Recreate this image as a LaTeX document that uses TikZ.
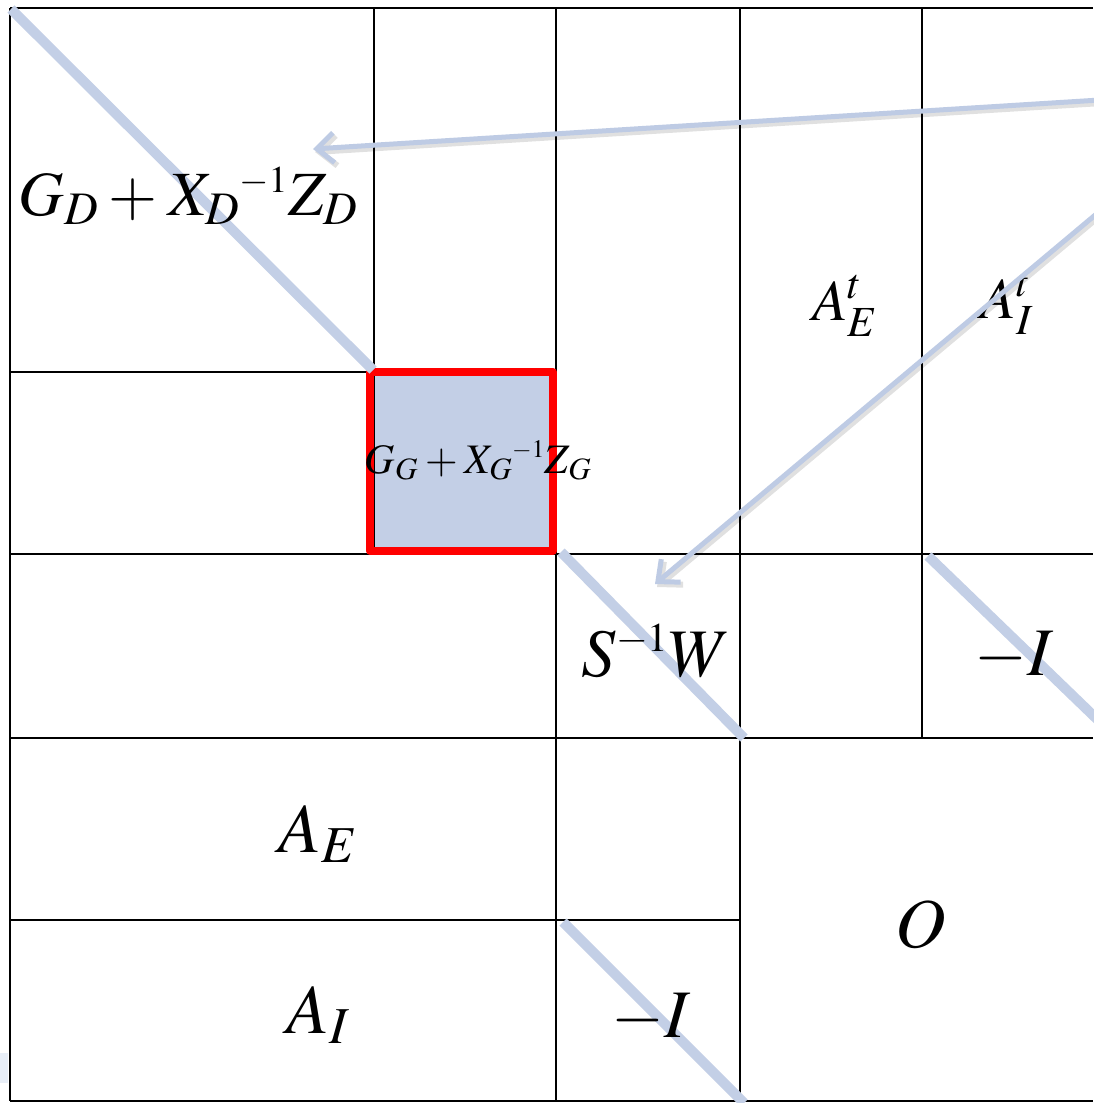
\documentclass[tikz,border=0pt]{standalone}
\usepackage{mathptmx}
\usetikzlibrary{arrows.meta}
\definecolor{diagblue}{HTML}{C3CFE6}
\definecolor{arrblue}{HTML}{BECBE4}
\definecolor{paleblue}{HTML}{E8EEF7}
\newcommand{\minv}{{}^{\scriptscriptstyle -1}}
\begin{document}
\begin{tikzpicture}[x=1pt,y=-1pt,
  grid/.style={line width=2.3pt, black},
  diag/.style={line width=10pt, diagblue},
  ptr/.style={line width=5pt, arrblue, -{Straight Barb[length=17pt,width=30pt]}},
  ptrshadow/.style={line width=6pt, black, opacity=0.12, -{Straight Barb[length=17pt,width=30pt]}},
  lab/.style={inner sep=0pt, anchor=base}]
\useasboundingbox (0,0) rectangle (1093,1103);
\fill[white] (0,0) rectangle (1093,1103);
% pale patch
\fill[paleblue] (0,1053) rectangle (8,1083);
% highlighted block
\fill[diagblue] (370,372) rectangle (553,551);
% grid
\draw[grid] (10,8) -- (1093,8);
\draw[grid] (10,1101) -- (1093,1101);
\draw[grid] (10,8) -- (10,1101);
\draw[grid] (10,372) -- (374,372);
\draw[grid] (10,554) -- (1093,554);
\draw[grid] (10,738) -- (1093,738);
\draw[grid] (10,920) -- (740,920);
\draw[grid] (374,8) -- (374,554);
\draw[grid] (556,8) -- (556,1101);
\draw[grid] (740,8) -- (740,1101);
\draw[grid] (922,8) -- (922,738);
% red box
\draw[line width=8pt, red, line join=round] (370,372) rectangle (553,551);
% diagonals
\coordinate (d1a) at (11,9);   \coordinate (d1b) at (373,370);
\coordinate (d2a) at (561,552); \coordinate (d2b) at (744,738);
\coordinate (d3a) at (928,556); \coordinate (d3b) at (1100,722);
\coordinate (d4a) at (563,922); \coordinate (d4b) at (744,1103);
\draw[diag] (d1a) -- (d1b);
\draw[diag] (d2a) -- (d2b);
\draw[diag] (d3a) -- (d3b);
\draw[diag] (d4a) -- (d4b);
% labels
\node[lab, font=\fontsize{63}{70}\selectfont] (gd) at (188,215) {$\medmuskip=3mu G_D + X_D\minv Z_D$};
\node[lab, font=\fontsize{42}{48}\selectfont] (gg) at (478,473) {$\medmuskip=3mu G_G + X_G\minv Z_G$};
\node[lab, font=\fontsize{58}{64}\selectfont] (aet) at (845,320) {$A_E^t$};
\node[lab, font=\fontsize{58}{64}\selectfont] (ait) at (1007,318) {$A_I^t$};
\node[lab, font=\fontsize{68}{74}\selectfont] (sw) at (656,676) {$S^{\scriptscriptstyle -1}W$};
\node[lab, font=\fontsize{68}{74}\selectfont] (mi1) at (1014,675) {$-I$};
\node[lab, font=\fontsize{70}{76}\selectfont] (ae) at (318,852) {$A_E$};
\node[lab, font=\fontsize{70}{76}\selectfont] (o) at (921,947) {$O$};
\node[lab, font=\fontsize{70}{76}\selectfont] (ai) at (318,1033) {$A_I$};
\node[lab, font=\fontsize{68}{74}\selectfont] (mi2) at (651,1037) {$-I$};
% arrows
\coordinate (s1) at (1100,100); \coordinate (t1) at (313,149);
\coordinate (s2) at (1100,211); \coordinate (t2) at (655,584);
\draw[ptrshadow] ([shift={(2,3)}]s1) -- ([shift={(2,3)}]t1);
\draw[ptrshadow] ([shift={(2,3)}]s2) -- ([shift={(2,3)}]t2);
\draw[ptr] (s1) -- (t1);
\draw[ptr] (s2) -- (t2);
\end{tikzpicture}
\end{document}
